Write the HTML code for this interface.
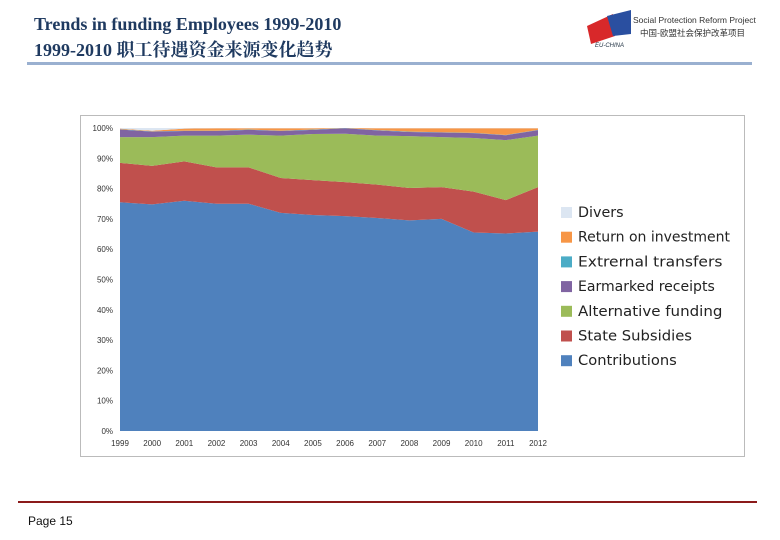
<!DOCTYPE html>
<html><head><meta charset="utf-8"><style>
body{margin:0;width:780px;height:540px;background:#fff;position:relative;overflow:hidden;font-family:"Liberation Sans",sans-serif}
.t{position:absolute;left:34px;font:bold 18px "Liberation Serif","Noto Serif CJK SC",serif;color:#1f3a60;white-space:nowrap}
</style></head><body>
<div class="t" style="top:14px">Trends in funding Employees 1999-2010</div>
<div class="t" style="top:36px">1999-2010 职工待遇资金来源变化趋势</div>
<div style="position:absolute;left:27px;top:62px;width:725px;height:3px;background:#9ab0d0"></div>
<div style="position:absolute;left:585px;top:8px;width:200px;height:40px">
  <svg width="50" height="40"><polygon points="2,18 28,6 30,28 6,36" fill="#d8282a"/><polygon points="22,8 46,2 46,26 28,28" fill="#2a4fa0"/></svg>
  <div style="position:absolute;left:48px;top:7px;font-size:8.5px;color:#333;white-space:nowrap">Social Protection Reform Project</div>
  <div style="position:absolute;left:55px;top:19px;font:8.5px 'Noto Sans CJK SC',sans-serif;color:#333;white-space:nowrap">中国-欧盟社会保护改革项目</div>
  <div style="position:absolute;left:10px;top:35px;font:italic 6px 'Liberation Sans',sans-serif;color:#234">EU-CHINA</div>
</div>
<svg id="c" width="780" height="540" style="position:absolute;left:0;top:0"></svg>
<div style="position:absolute;left:18px;top:501px;width:739px;height:2px;background:#8b1a1a"></div>
<div style="position:absolute;left:28px;top:514px;font-size:12px;color:#111">Page 15</div>
<script>
const years=["1999","2000","2001","2002","2003","2004","2005","2006","2007","2008","2009","2010","2011","2012"];
const contributions=[75.5,74.8,76,75,75,72,71.3,71,70.3,69.5,70,65.5,65.2,65.8];
const stateSubsidies=[13,12.7,13,12,12,11.5,11.5,11.2,11,10.7,10.5,13.5,11,14.7];
const alternativeFunding=[8.5,9.5,8.5,10.5,10.8,14,15.2,16,16.2,17.1,16.5,17.7,19.8,17];
const earmarked=[2.5,1.8,1.5,1.5,1.6,1.5,1.4,1.8,1.7,1.4,1.5,1.6,1.6,1.8];
const external=[0.1,0.1,0.1,0.1,0.1,0.1,0.1,0.1,0.1,0.1,0.1,0.1,0.1,0.1];
const returnInv=[0.2,0.2,0.7,0.8,0.4,0.8,0.4,0,0.6,1.1,1.3,1.5,2.2,0.5];
const divers=[0.2,0.9,0.2,0.1,0.1,0.1,0.1,0,0.1,0.1,0.1,0.1,0.1,0.1];
const seriesNames=["Contributions","State Subsidies","Alternative funding","Earmarked receipts","Extrernal transfers","Return on investment","Divers"];
const yTicks=["0%","10%","20%","30%","40%","50%","60%","70%","80%","90%","100%"];
const series=[contributions,stateSubsidies,alternativeFunding,earmarked,external,returnInv,divers];
const colors=["#4f81bd","#c0504d","#9bbb59","#8064a2","#4bacc6","#f79646","#dce6f2"];
const NS="http://www.w3.org/2000/svg",svg=document.getElementById('c');
const x0=120,x1=538,y0=431,y1=128;
const xs=i=>x0+(x1-x0)*i/(years.length-1);
const ys=v=>y0-(y0-y1)*v/100;
function mk(t,a){const e=document.createElementNS(NS,t);for(const k in a)e.setAttribute(k,a[k]);svg.appendChild(e);return e;}
const box=mk('rect',{x:80.5,y:115.5,width:664,height:341,fill:'#fff',stroke:'#bbb'});


const totals=years.map((_,i)=>series.reduce((s,a)=>s+a[i],0));
let base=years.map(()=>0);
series.forEach((arr,k)=>{
  const top=base.map((b,i)=>b+arr[i]/totals[i]*100);
  let d='M'+years.map((_,i)=>xs(i)+','+ys(top[i])).join('L');
  for(let i=years.length-1;i>=0;i--)d+='L'+xs(i)+','+ys(base[i]);
  const p=mk('path',{d:d+'Z',fill:colors[k]});
  
  
  base=top;
});
yTicks.forEach((t,i)=>{
  const e=mk('text',{x:113,y:ys(i*10)+3,'text-anchor':'end','font-size':'8','fill':'#333','font-family':'Liberation Sans'});
  e.textContent=t;
  
  
});
years.forEach((t,i)=>{
  const e=mk('text',{x:xs(i),y:446,'text-anchor':'middle','font-size':'8','fill':'#333','font-family':'Liberation Sans'});
  e.textContent=t;
  
  
});
for(let k=series.length-1,r=0;k>=0;k--,r++){
  const y=213+r*24.7;
  const s=mk('rect',{x:561,y:y-6,width:11,height:11,fill:colors[k]});
  
  
  const e=mk('text',{x:578,y:y+4,'font-size':'14','fill':'#222','font-family':'DejaVu Sans'});
  e.setAttribute('textLength',seriesNames[k].length*7.6);
  e.setAttribute('lengthAdjust','spacingAndGlyphs');
  e.textContent=seriesNames[k];
  
  
}
</script>
</body></html>
